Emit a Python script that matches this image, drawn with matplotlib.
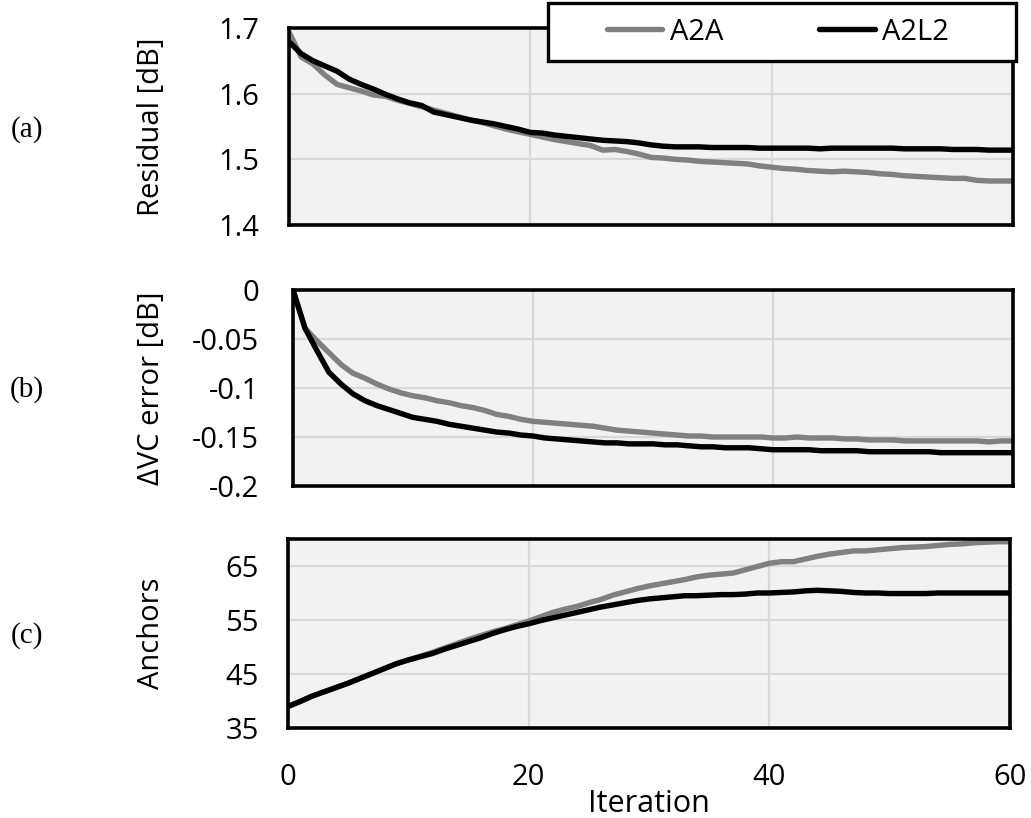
import matplotlib
matplotlib.use("Agg")
import matplotlib.pyplot as plt
from matplotlib.lines import Line2D
from matplotlib.patches import Rectangle

iterations = list(range(61))

residual_a2a = [1.694, 1.656, 1.645, 1.628, 1.614, 1.609, 1.604, 1.598, 1.596, 1.590,
                1.585, 1.580, 1.575, 1.570, 1.565, 1.560, 1.556, 1.551, 1.546, 1.542,
                1.538, 1.534, 1.530, 1.527, 1.524, 1.521, 1.514, 1.515, 1.512, 1.508,
                1.503, 1.502, 1.500, 1.499, 1.497, 1.496, 1.495, 1.494, 1.493, 1.490,
                1.488, 1.486, 1.485, 1.483, 1.482, 1.481, 1.482, 1.481, 1.480, 1.478,
                1.477, 1.475, 1.474, 1.473, 1.472, 1.471, 1.471, 1.468, 1.467, 1.467,
                1.467]
residual_a2l2 = [1.679, 1.661, 1.650, 1.642, 1.634, 1.622, 1.614, 1.607, 1.599, 1.592,
                 1.586, 1.582, 1.572, 1.568, 1.564, 1.560, 1.557, 1.554, 1.550, 1.546,
                 1.541, 1.540, 1.537, 1.535, 1.533, 1.531, 1.529, 1.528, 1.527, 1.525,
                 1.522, 1.520, 1.519, 1.519, 1.519, 1.518, 1.518, 1.518, 1.518, 1.517,
                 1.517, 1.517, 1.517, 1.517, 1.516, 1.517, 1.517, 1.517, 1.517, 1.517,
                 1.517, 1.516, 1.516, 1.516, 1.516, 1.515, 1.515, 1.515, 1.514, 1.514,
                 1.514]

dvc_a2a = [0.0, -0.039, -0.052, -0.064, -0.076, -0.085, -0.090, -0.096, -0.101, -0.105,
           -0.108, -0.110, -0.113, -0.115, -0.118, -0.120, -0.123, -0.127, -0.129, -0.132,
           -0.134, -0.135, -0.136, -0.137, -0.138, -0.139, -0.141, -0.143, -0.144, -0.145,
           -0.146, -0.147, -0.148, -0.149, -0.149, -0.150, -0.150, -0.150, -0.150, -0.150,
           -0.151, -0.151, -0.150, -0.151, -0.151, -0.151, -0.152, -0.152, -0.153, -0.153,
           -0.153, -0.154, -0.154, -0.154, -0.154, -0.154, -0.154, -0.154, -0.155, -0.154,
           -0.154]
dvc_a2l2 = [0.0, -0.039, -0.062, -0.084, -0.096, -0.106, -0.113, -0.118, -0.122, -0.126,
            -0.130, -0.132, -0.134, -0.137, -0.139, -0.141, -0.143, -0.145, -0.146, -0.148,
            -0.149, -0.151, -0.152, -0.153, -0.154, -0.155, -0.156, -0.156, -0.157, -0.157,
            -0.157, -0.158, -0.158, -0.159, -0.160, -0.160, -0.161, -0.161, -0.161, -0.162,
            -0.163, -0.163, -0.163, -0.163, -0.164, -0.164, -0.164, -0.164, -0.165, -0.165,
            -0.165, -0.165, -0.165, -0.165, -0.166, -0.166, -0.166, -0.166, -0.166, -0.166,
            -0.166]

anchors_a2a = [39.0, 39.9, 40.9, 41.7, 42.5, 43.3, 44.2, 45.1, 46.0, 46.9,
               47.6, 48.3, 49.0, 49.8, 50.6, 51.4, 52.1, 52.8, 53.4, 54.1,
               54.8, 55.6, 56.4, 57.0, 57.5, 58.2, 58.8, 59.6, 60.2, 60.8,
               61.3, 61.7, 62.1, 62.5, 63.0, 63.3, 63.5, 63.7, 64.3, 64.9,
               65.5, 65.8, 65.8, 66.3, 66.8, 67.2, 67.5, 67.8, 67.8, 68.0,
               68.2, 68.4, 68.5, 68.6, 68.8, 69.0, 69.1, 69.3, 69.4, 69.5,
               69.5]
anchors_a2l2 = [39.0, 39.9, 40.9, 41.7, 42.5, 43.3, 44.2, 45.1, 46.0, 46.9,
                47.6, 48.2, 48.8, 49.6, 50.3, 51.0, 51.7, 52.5, 53.2, 53.8,
                54.3, 54.9, 55.4, 55.9, 56.4, 56.9, 57.4, 57.8, 58.2, 58.6,
                58.9, 59.1, 59.3, 59.5, 59.5, 59.6, 59.7, 59.7, 59.8, 60.0,
                60.0, 60.1, 60.2, 60.4, 60.5, 60.4, 60.3, 60.1, 60.0, 60.0,
                59.9, 59.9, 59.9, 59.9, 60.0, 60.0, 60.0, 60.0, 60.0, 60.0,
                60.0]

series_names = ["A2A", "A2L2"]
panel_tags = ["(a)", "(b)", "(c)"]
y_labels = ["Residual [dB]", "\u0394VC error [dB]", "Anchors"]
y_limits = [(1.4, 1.7), (-0.2, 0.0), (35, 70)]
y_ticks = [[1.4, 1.5, 1.6, 1.7], [-0.2, -0.15, -0.1, -0.05, 0], [35, 45, 55, 65]]
y_ticklabels = [["1.4", "1.5", "1.6", "1.7"], ["-0.2", "-0.15", "-0.1", "-0.05", "0"],
                ["35", "45", "55", "65"]]
x_ticks = [0, 20, 40, 60]

W, H = 1031, 818
fig = plt.figure(figsize=(W / 100, H / 100), dpi=100)

# pixel boxes (left, top, right, bottom)
boxes = [(289, 28, 1013, 225), (293, 290, 1013, 486), (288, 539, 1010, 728)]
tag_y = [130, 390, 636]

TICK_FONT = ["Open Sans", "DejaVu Sans"]
GRAY = "#808080"
LW = 3.9
data = [(residual_a2a, residual_a2l2), (dvc_a2a, dvc_a2l2), (anchors_a2a, anchors_a2l2)]

for i, (l, t, r, b) in enumerate(boxes):
    ax = fig.add_axes([l / W, 1 - b / H, (r - l) / W, (b - t) / H])
    ax.set_facecolor("#f2f2f2")
    s1, s2 = data[i]
    ax.plot(iterations, s1, color=GRAY, lw=LW, solid_capstyle="round", zorder=3)
    ax.plot(iterations, s2, color="black", lw=LW, solid_capstyle="round", zorder=4)
    ax.set_xlim(0, 60)
    ax.set_ylim(*y_limits[i])
    ax.set_xticks(x_ticks)
    ax.set_yticks(y_ticks[i])
    ax.set_yticklabels(y_ticklabels[i], family=TICK_FONT, fontsize=21)
    ax.grid(True, color="#d9d9d9", lw=1.6, zorder=0)
    ax.set_axisbelow(True)
    for sp in ax.spines.values():
        sp.set_linewidth(2.6)
        sp.set_color("black")
        sp.set_zorder(5)
    ax.tick_params(axis="both", length=0)
    ax.tick_params(axis="y", pad=(l - 259) * 0.72)
    if i < 2:
        ax.set_xticklabels([])
    else:
        ax.set_xticklabels([str(v) for v in x_ticks], family=TICK_FONT, fontsize=21)
        ax.tick_params(axis="x", pad=25)
        ax.set_xlabel("Iteration", family=TICK_FONT, fontsize=22, labelpad=-2)
    ax.set_ylabel(y_labels[i], family=TICK_FONT, fontsize=21)
    ax.yaxis.set_label_coords((166 - l) / (r - l), 0.5)
    fig.text(27 / W, 1 - tag_y[i] / H, panel_tags[i], family=["Liberation Serif"],
             fontsize=21, ha="center", va="center")

# legend frame
lx0, ly0, lx1, ly1 = 548, 3, 1016, 61
frame = Rectangle((lx0 / W, 1 - ly1 / H), (lx1 - lx0) / W, (ly1 - ly0) / H,
                  transform=fig.transFigure, facecolor="white", edgecolor="black",
                  lw=2.4, zorder=10)
fig.patches.append(frame)

handles = [Line2D([], [], color=GRAY, lw=LW, solid_capstyle="round"),
           Line2D([], [], color="black", lw=LW, solid_capstyle="round")]
leg = fig.legend(handles, series_names, loc="center",
                 bbox_to_anchor=(778 / W, 1 - 32 / H),
                 ncol=2, frameon=False, handlelength=1.9,
                 handletextpad=0.25, columnspacing=3.3, borderpad=0,
                 prop={"family": TICK_FONT, "size": 21})
leg.set_zorder(11)

fig.savefig("out.png", dpi=100)
